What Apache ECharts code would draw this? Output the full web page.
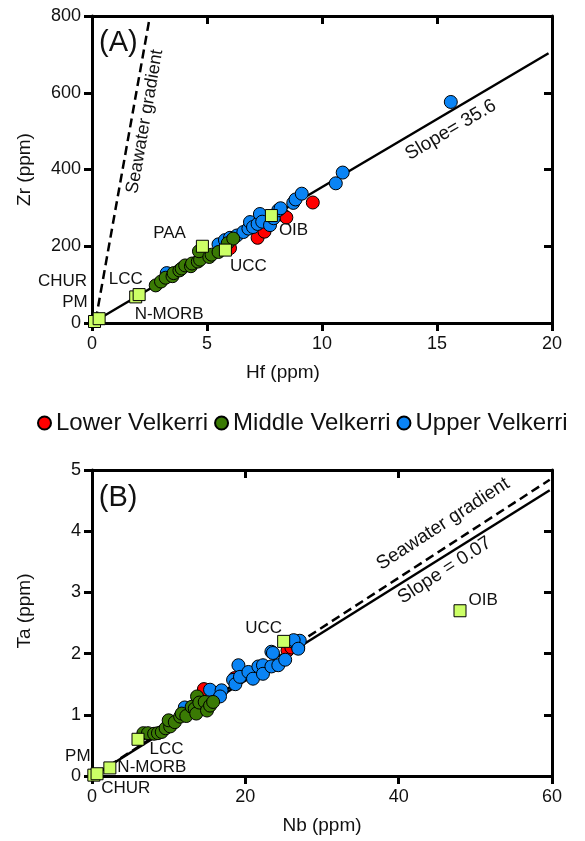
<!DOCTYPE html>
<html>
<head>
<meta charset="utf-8">
<script src="https://cdn.jsdelivr.net/npm/echarts@6/dist/echarts.min.js"></script>
<style>
html, body { margin: 0; background: #fff; }
#main { width: 585px; height: 841px; }
</style>
</head>
<body>
<div id="main"></div>
<script>
// Panel A: Hf (x) vs Zr (y)
var lowerA = [[6.0, 195], [7.2, 222], [7.5, 238], [8.3, 282], [8.45, 275], [9.6, 314]];
var upperA = [[3.25, 130], [5.5, 205], [5.78, 216], [6.0, 222], [6.3, 228], [6.58, 237], [6.8, 246],
  [6.87, 263], [7.0, 250], [7.2, 258], [7.3, 284], [7.4, 264], [7.74, 255], [7.9, 273], [8.1, 294],
  [8.2, 299], [8.75, 313], [8.85, 322], [9.12, 337], [10.6, 364], [10.9, 392], [15.6, 576]];
var middleA = [[2.77, 98], [3.0, 108], [3.2, 118], [3.5, 122], [3.55, 130], [3.8, 137], [3.9, 142],
  [4.05, 150], [4.3, 148], [4.35, 155], [4.6, 160], [4.7, 165], [4.65, 187], [5.1, 172], [5.2, 178],
  [5.5, 185], [5.9, 208], [6.14, 220]];
var refNamesA = ['CHUR', 'PM', 'LCC', 'N-MORB', 'PAA', 'UCC', 'OIB'];
var refA = [[0.11, 3.9], [0.31, 11.2], [1.9, 68], [2.05, 74], [4.8, 200], [5.8, 190], [7.8, 280]];
var fitA = [[0.31, 11], [19.85, 703]];
var seawaterA = [[0.16, 7], [2.52, 800]];

// Panel B: Nb (x) vs Ta (y)
var lowerB = [[14.6, 1.42], [18.6, 1.6], [25.5, 2.05], [26.0, 2.1]];
var upperB = [[12.1, 1.12], [15.4, 1.41], [16.9, 1.4], [16.7, 1.3], [18.4, 1.57], [18.7, 1.5],
  [19.1, 1.81], [19.3, 1.62], [20.4, 1.7], [21.0, 1.59], [21.7, 1.79], [22.3, 1.81], [22.3, 1.67],
  [23.4, 1.79], [23.4, 2.03], [23.6, 2.01], [24.3, 1.81], [25.2, 1.9], [26.3, 2.19], [26.9, 2.11],
  [27.1, 2.21], [26.3, 2.22], [26.9, 2.08]];
var middleB = [[6.7, 0.7], [7.3, 0.7], [8.1, 0.69], [8.6, 0.7], [9.1, 0.72], [9.6, 0.78], [10.2, 0.81],
  [10.0, 0.91], [10.8, 0.88], [11.5, 0.97], [11.7, 1.02], [12.3, 0.98], [13.0, 1.13], [13.4, 1.1],
  [13.6, 1.02], [13.7, 1.3], [14.0, 1.2], [14.7, 1.21], [15.0, 1.07], [15.4, 1.15], [15.8, 1.21]];
var refNamesB = ['CHUR', 'PM', 'N-MORB', 'LCC', 'UCC', 'OIB'];
var refB = [[0.24, 0.014], [0.66, 0.037], [2.33, 0.132], [6.0, 0.6], [25.0, 2.2], [48.0, 2.7]];
var fitB = [[0.66, 0.04], [59.7, 4.67]];
var seawaterB = [[0.66, 0.04], [59.7, 4.84]];

var FONT = '"Liberation Sans", Arial, Helvetica, sans-serif';
var RED = '#ff0000', GREEN = '#3a7a04', BLUE = '#0a84f5', SQUARE = '#ccff66';

// label placement for the reference squares (style only)
var placeA = {
  'CHUR': ['left', [4, -40]], 'PM': ['left', [0, -16]], 'LCC': ['top', [-10, 2]],
  'N-MORB': ['bottom', [30, 0]], 'PAA': ['left', [-5, -13]], 'UCC': ['bottom', [23, -4]],
  'OIB': ['right', [-4, 15]]
};
var placeB = {
  'CHUR': ['bottom', [32, -7]], 'PM': ['left', [5, -17]], 'N-MORB': ['right', [-4, -1]],
  'LCC': ['right', [0, 10]], 'UCC': ['top', [-20, 7]], 'OIB': ['right', [-3, -10]]
};

function refData(names, values, place) {
  return values.map(function (v, i) {
    var p = place[names[i]];
    return { name: names[i], value: v, label: { position: p[0], offset: p[1] } };
  });
}

var lineW = 3;
function mainX(grid, min, max, interval, name, pad) {
  return {
    gridIndex: grid, type: 'value', min: min, max: max, interval: interval, position: 'bottom',
    name: name, nameLocation: 'middle', nameGap: 40,
    nameTextStyle: { fontFamily: FONT, fontSize: 19, color: '#111', padding: pad },
    axisLine: { onZero: false, lineStyle: { color: '#000', width: lineW } },
    axisTick: { length: 8, lineStyle: { color: '#000', width: lineW } },
    axisLabel: { margin: 12, fontFamily: FONT, fontSize: 18, color: '#111' },
    splitLine: { show: false }
  };
}
function mainY(grid, min, max, interval, name, pad) {
  return {
    gridIndex: grid, type: 'value', min: min, max: max, interval: interval, position: 'left',
    name: name, nameLocation: 'middle', nameGap: 58,
    nameTextStyle: { fontFamily: FONT, fontSize: 19, color: '#111', padding: pad },
    axisLine: { onZero: false, lineStyle: { color: '#000', width: lineW } },
    axisTick: { length: 8, lineStyle: { color: '#000', width: lineW } },
    axisLabel: { margin: 11, fontFamily: FONT, fontSize: 18, color: '#111' },
    splitLine: { show: false }
  };
}
function frameAxis(grid, min, max, interval, pos) {
  return {
    gridIndex: grid, type: 'value', min: min, max: max, interval: interval, position: pos,
    axisLine: { onZero: false, lineStyle: { color: '#000', width: lineW } },
    axisTick: { inside: true, length: 8, lineStyle: { color: '#000', width: lineW } },
    axisLabel: { show: false }, splitLine: { show: false }
  };
}

function dots(name, color, data, xi, yi) {
  return {
    name: name, type: 'scatter', xAxisIndex: xi, yAxisIndex: yi, data: data, symbolSize: 13,
    itemStyle: { color: color, borderColor: '#000', borderWidth: 1, opacity: 1 }
  };
}
function squares(data, xi, yi) {
  return {
    name: 'ref' + xi, type: 'scatter', xAxisIndex: xi, yAxisIndex: yi, data: data, symbol: 'rect',
    symbolSize: 12, z: 5,
    itemStyle: { color: SQUARE, borderColor: '#000', borderWidth: 1, opacity: 1 },
    label: { show: true, formatter: '{b}', fontFamily: FONT, fontSize: 17, color: '#111' }
  };
}
function line(data, xi, yi, dashed) {
  return {
    type: 'line', xAxisIndex: xi, yAxisIndex: yi, data: data, symbol: 'none', silent: true,
    clip: true, z: 1,
    lineStyle: { color: '#000', width: 2.5, type: dashed ? [9, 5] : 'solid' }
  };
}

var chart = echarts.init(document.getElementById('main'));
chart.setOption({
  animation: false,
  backgroundColor: '#fff',
  legend: {
    data: ['Lower Velkerri', 'Middle Velkerri', 'Upper Velkerri'],
    top: 406, left: 32, icon: 'circle', itemWidth: 13, itemHeight: 13, itemGap: 6,
    textStyle: { fontFamily: FONT, fontSize: 24, color: '#111' }
  },
  grid: [
    { left: 92, right: 33, top: 16, height: 307 },
    { left: 92, right: 33, top: 470, height: 306 }
  ],
  xAxis: [
    mainX(0, 0, 20, 5, 'Hf (ppm)', [0, 78, 0, 0]), frameAxis(0, 0, 20, 5, 'top'),
    mainX(1, 0, 60, 20, 'Nb (ppm)', 0), frameAxis(1, 0, 60, 20, 'top')
  ],
  yAxis: [
    mainY(0, 0, 800, 200, 'Zr (ppm)', 0), frameAxis(0, 0, 800, 200, 'right'),
    mainY(1, 0, 5, 1, 'Ta (ppm)', [0, 0, 0, 24]), frameAxis(1, 0, 5, 1, 'right')
  ],
  series: [
    line(fitA, 0, 0, false), line(seawaterA, 0, 0, true),
    dots('Lower Velkerri', RED, lowerA, 0, 0),
    dots('Upper Velkerri', BLUE, upperA, 0, 0),
    dots('Middle Velkerri', GREEN, middleA, 0, 0),
    squares(refData(refNamesA, refA, placeA), 0, 0),
    line(fitB, 2, 2, false), line(seawaterB, 2, 2, true),
    dots('Lower Velkerri', RED, lowerB, 2, 2),
    dots('Upper Velkerri', BLUE, upperB, 2, 2),
    dots('Middle Velkerri', GREEN, middleB, 2, 2),
    squares(refData(refNamesB, refB, placeB), 2, 2)
  ]
});

// annotations placed in data coordinates
function px(gridIdx, pt) {
  return chart.convertToPixel({ xAxisIndex: gridIdx * 2, yAxisIndex: gridIdx * 2 }, pt);
}
function note(text, gridIdx, pt, deg, size) {
  var p = px(gridIdx, pt);
  return {
    type: 'text', x: p[0], y: p[1], rotation: deg * Math.PI / 180, z: 10,
    style: { text: text, fontFamily: FONT, fontSize: size, fill: '#111', align: 'center', verticalAlign: 'middle' }
  };
}
chart.setOption({
  graphic: [
    note('(A)', 0, [1.15, 730], 0, 29),
    note('Seawater gradient', 0, [2.3, 525], 80, 18),
    note('Slope= 35.6', 0, [15.6, 503], 30.5, 19),
    note('(B)', 1, [3.4, 4.55], 0, 29),
    note('Seawater gradient', 1, [45.8, 4.12], 33, 19),
    note('Slope = 0.07', 1, [46.0, 3.36], 33, 19)
  ]
});
</script>
</body>
</html>
